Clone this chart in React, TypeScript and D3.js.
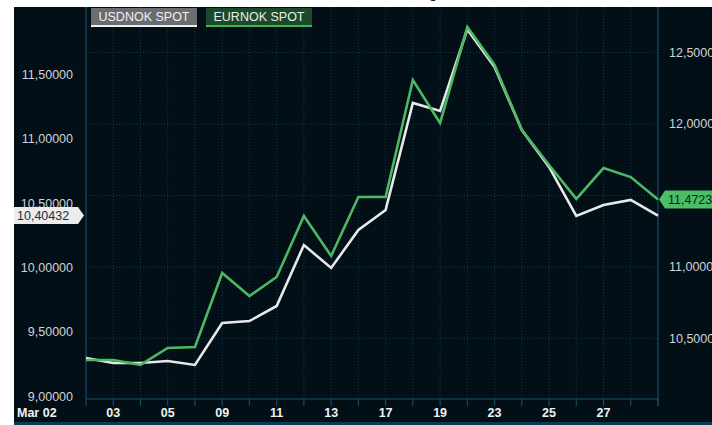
import React from "react";
import * as d3 from "d3";

const dates = ["02","03","04","05","06","09","10","11","12","13","16","17","18","19","20","23","24","25","26","27","30","31"];
const usdnok = [9.299,9.26,9.26,9.276,9.245,9.571,9.586,9.703,10.176,9.998,10.293,10.448,11.279,11.217,11.85,11.558,11.069,10.782,10.402,10.487,10.526,10.40432];
const eurnok = [10.35,10.35,10.315,10.434,10.441,10.958,10.797,10.93,11.357,11.077,11.49,11.49,12.308,12.007,12.678,12.413,11.958,11.713,11.476,11.692,11.629,11.4723];
const leftTicks = [9.0, 9.5, 10.0, 10.5, 11.0, 11.5];
const rightTicks = [10.5, 11.0, 11.5, 12.0, 12.5];
const xLabels = ["03","05","09","11","13","17","19","23","25","27"];
const seriesNames = ["USDNOK SPOT", "EURNOK SPOT"];

const W = 712, H = 425;
const X0 = 86, X1 = 658, YTOP = 7, YBOT = 399;
const FONT = "'Liberation Sans', Arial, sans-serif";

export default function App() {
  const x = d3.scalePoint<string>().domain(dates).range([X0, X1]);
  const yL = d3.scaleLinear().domain([9, 12]).range([396.5, 10.1]);
  const yR = d3.scaleLinear().domain([10, 13]).range([410, -19]);
  const lineL = d3.line<number>().x((_, i) => x(dates[i])!).y((d) => yL(d));
  const lineR = d3.line<number>().x((_, i) => x(dates[i])!).y((d) => yR(d));
  const fmtL = (v: number) => v.toFixed(5).replace(".", ",");
  const fmtR = (v: number) => v.toFixed(4).replace(".", ",");
  const lastL = usdnok[usdnok.length - 1];
  const lastR = eurnok[eurnok.length - 1];
  const yLastL = yL(lastL);
  const yLastR = yR(lastR);

  return (
    <svg width={W} height={H} style={{ position: "fixed", left: 0, top: 0, display: "block" }} fontFamily={FONT}>
      <rect x={0} y={0} width={W} height={H} fill="#ffffff" />
      <text x={428} y={-3} fontSize={18} fill="#111">g</text>
      <rect x={14} y={YTOP} width={W - 14} height={422 - YTOP} fill="#020f17" />
      <rect x={14} y={422} width={W - 14} height={3} fill="#0b3b50" />
      {/* vertical grid */}
      {dates.map((d) => (
        <line key={"vg" + d} x1={x(d)} x2={x(d)} y1={YTOP} y2={YBOT} stroke="#0e3a50" strokeDasharray="1,2" />
      ))}
      {/* horizontal grid */}
      {rightTicks.map((t) => (
        <line key={"hg" + t} x1={X0} x2={X1} y1={yR(t)} y2={yR(t)} stroke="#0e3a50" strokeDasharray="1,2" />
      ))}
      {/* axes */}
      <line x1={X0} x2={X0} y1={YTOP} y2={YBOT} stroke="#17526e" strokeWidth={1} />
      <line x1={X1} x2={X1} y1={YTOP} y2={406} stroke="#17526e" strokeWidth={1} />
      <line x1={X0} x2={X1} y1={YBOT} y2={YBOT} stroke="#17526e" strokeWidth={1} />
      {dates.map((d) => (
        <line key={"xt" + d} x1={x(d)} x2={x(d)} y1={YBOT} y2={406} stroke="#17526e" />
      ))}
      {/* left tick labels */}
      {leftTicks.map((t) => (
        <text key={"lt" + t} x={73} y={yL(t)} dy="0.35em" textAnchor="end" fontSize={12.5} fill="#cfd3d6">{fmtL(t)}</text>
      ))}
      {/* right tick labels */}
      {rightTicks.map((t) => (
        <text key={"rt" + t} x={669} y={yR(t)} dy="0.35em" textAnchor="start" fontSize={12.5} fill="#cfd3d6">{fmtR(t)}</text>
      ))}
      {/* x labels */}
      <text x={17} y={413} dy="0.35em" fontSize={12.5} fontWeight="bold" fill="#f2f2f2">Mar 02</text>
      {xLabels.map((l) => (
        <text key={"xl" + l} x={x(l)} y={413} dy="0.35em" textAnchor="middle" fontSize={12.5} fontWeight="bold" fill="#f2f2f2">{l}</text>
      ))}
      {/* lines */}
      <path d={lineL(usdnok)!} fill="none" stroke="#e8e8e8" strokeWidth={2.6} strokeLinejoin="miter" />
      <path d={lineR(eurnok)!} fill="none" stroke="#4cb863" strokeWidth={2.6} strokeLinejoin="miter" />
      {/* legend */}
      <rect x={91} y={8} width={106} height={19} fill="#6a6d70" />
      <rect x={91} y={25} width={106} height={2} fill="#eeeeee" />
      <text x={144} y={17} dy="0.35em" textAnchor="middle" fontSize={12.5} fill="#f0f0f0">{seriesNames[0]}</text>
      <rect x={206} y={8} width={106} height={19} fill="#1b4a2b" />
      <rect x={206} y={25} width={106} height={2} fill="#3fb35c" />
      <text x={259} y={17} dy="0.35em" textAnchor="middle" fontSize={12.5} fill="#e8efe9">{seriesNames[1]}</text>
      {/* left value label */}
      <path d={`M14,${yLastL - 8.5} L78,${yLastL - 8.5} L84,${yLastL} L78,${yLastL + 8.5} L14,${yLastL + 8.5} Z`} fill="#ececec" />
      <text x={17} y={yLastL} dy="0.35em" fontSize={12.5} fill="#1e2c44">{fmtL(lastL)}</text>
      {/* right value label */}
      <path d={`M659,${yLastR} L665,${yLastR - 9} L712,${yLastR - 9} L712,${yLastR + 9} L665,${yLastR + 9} Z`} fill="#4cbe68" />
      <text x={668} y={yLastR} dy="0.35em" fontSize={12.5} fill="#0b2614">{fmtR(lastR)}</text>
    </svg>
  );
}
